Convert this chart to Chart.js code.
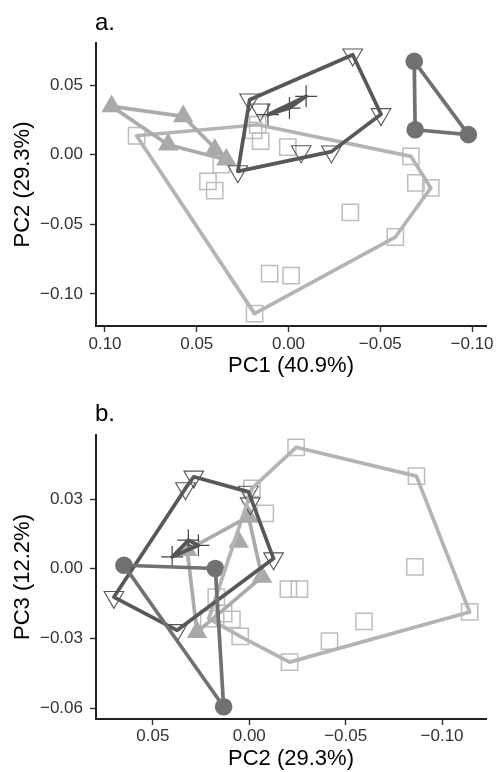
<!DOCTYPE html>
<html><head><meta charset="utf-8">
<script src="https://cdn.jsdelivr.net/npm/chart.js@4.4.1/dist/chart.umd.min.js"></script>
<style>
html,body{margin:0;padding:0;background:#fff;}
#wrap{position:relative;width:499px;height:772px;font-family:"Liberation Sans",Arial,Helvetica,sans-serif;overflow:hidden;}
.panel{position:absolute;left:0;width:499px;height:386px;}
.lab{position:absolute;font-size:24px;line-height:24px;color:#000;}
</style></head><body>
<div id="wrap">
<div class="panel" style="top:0"><canvas id="ca" width="499" height="386"></canvas></div>
<div class="panel" style="top:386px"><canvas id="cb" width="499" height="386"></canvas></div>
<div class="lab" style="left:95px;top:10px">a.</div>
<div class="lab" style="left:95px;top:401px">b.</div>
</div>
<script>
// ---------- categories (groups, one per marker shape) ----------
const groups = ['Group 1', 'Group 2', 'Group 3', 'Group 4', 'Group 5'];

// ---------- panel a: PC1 (x) vs PC2 (y) ----------
const g1A_pc1 = [0.0828, 0.0439, 0.0402, 0.0366, 0.0168, 0.0190, 0.0152, 0.0004, -0.0667, -0.0694, -0.0775, -0.0337, -0.0582, 0.0103, -0.0014, 0.0185];
const g1A_pc2 = [0.0136, -0.0191, -0.0258, -0.0072, 0.0215, 0.0175, 0.0098, 0.0055, -0.0012, -0.0203, -0.0239, -0.0414, -0.0591, -0.0854, -0.0869, -0.1141];
const g2A_pc1 = [0.0964, 0.0574, 0.0656, 0.0402, 0.0339];
const g2A_pc2 = [0.0347, 0.0275, 0.0072, 0.0036, -0.0036];
const g3A_pc1 = [-0.0350, -0.0504, -0.0234, -0.0069, 0.0276, 0.0212, 0.0154];
const g3A_pc2 = [0.0718, 0.0290, 0.0022, 0.0024, -0.0120, 0.0395, 0.0323];
const g4A_pc1 = [-0.0096, -0.0005, 0.0112];
const g4A_pc2 = [0.0419, 0.0335, 0.0287];
const g5A_pc1 = [-0.0685, -0.0690, -0.0980];
const g5A_pc2 = [0.0670, 0.0179, 0.0144];

// ---------- panel b: PC2 (x) vs PC3 (y) ----------
const g1B_pc2 = [0.0133, -0.0203, -0.0260, -0.0083, 0.0210, 0.0171, 0.0090, 0.0047, -0.0014, -0.0209, -0.0243, -0.0416, -0.0595, -0.0859, -0.0867, -0.1143];
const g1B_pc3 = [-0.0193, -0.0088, -0.0088, 0.0238, -0.0215, -0.0122, -0.0218, -0.0291, 0.0346, -0.0402, 0.0523, -0.0312, -0.0227, 0.0008, 0.0399, -0.0186];
const g2B_pc2 = [0.0322, 0.0271, 0.0055, 0.0004, -0.0066];
const g2B_pc3 = [0.0080, -0.0273, 0.0116, 0.0224, -0.0035];
const g3B_pc2 = [0.0702, 0.0288, 0.0004, -0.0005, -0.0126, 0.0374, 0.0331];
const g3B_pc3 = [-0.0122, 0.0396, 0.0331, 0.0281, 0.0044, -0.0265, 0.0346];
const g4B_pc2 = [0.0400, 0.0316, 0.0264];
const g4B_pc3 = [0.0051, 0.0123, 0.0101];
const g5B_pc2 = [0.0650, 0.0176, 0.0133];
const g5B_pc3 = [0.0015, 0.0001, -0.0594];

// ---------- tick labels ----------
const ticksA_x = [0.10, 0.05, 0.00, -0.05, -0.10];
const ticksA_y = [-0.10, -0.05, 0.00, 0.05];
const ticksB_x = [0.05, 0.00, -0.05, -0.10];
const ticksB_y = [-0.06, -0.03, 0.00, 0.03];

const FONT = '"Liberation Sans", Arial, Helvetica, sans-serif';

const styles = [
  {ps: 'rect', r: 11.5, bg: 'rgba(0,0,0,0)', bc: '#bdbdbd', bw: 1.5, line: '#b4b4b4', rot: 0},
  {ps: 'triangle', r: 11.8, bg: '#a9a9a9', bc: '#a9a9a9', bw: 0, line: '#ababab', rot: 0},
  {ps: 'triangle', r: 11.3, bg: 'rgba(0,0,0,0)', bc: '#555555', bw: 1.1, line: '#585858', rot: 180},
  {ps: 'cross', r: 11, bg: '#444444', bc: '#444444', bw: 1.2, line: '#555555', rot: 0},
  {ps: 'circle', r: 8.8, bg: '#717171', bc: '#717171', bw: 0, line: '#717171', rot: 0}
];

function fmt(v) {
  const s = Math.abs(v).toFixed(2);
  return (v < -1e-9 ? '\u2212' : '') + s;
}

function hull(xs, ys) {
  const pts = xs.map((x, i) => ({x: x, y: ys[i]})).sort((a, b) => a.x - b.x || a.y - b.y);
  const cross = (o, a, b) => (a.x - o.x) * (b.y - o.y) - (a.y - o.y) * (b.x - o.x);
  const lower = [];
  for (const p of pts) {
    while (lower.length >= 2 && cross(lower[lower.length - 2], lower[lower.length - 1], p) <= 0) lower.pop();
    lower.push(p);
  }
  const upper = [];
  for (let i = pts.length - 1; i >= 0; i--) {
    const p = pts[i];
    while (upper.length >= 2 && cross(upper[upper.length - 2], upper[upper.length - 1], p) <= 0) upper.pop();
    upper.push(p);
  }
  upper.pop(); lower.pop();
  const h = lower.concat(upper);
  h.push(h[0]);
  return h;
}

function buildDatasets(xsList, ysList) {
  const ds = [];
  xsList.forEach((xs, g) => {
    const ys = ysList[g];
    const st = styles[g];
    ds.push({
      label: groups[g] + ' hull',
      data: hull(xs, ys),
      showLine: true,
      pointRadius: 0,
      pointHoverRadius: 0,
      borderColor: st.line,
      borderWidth: 3.7,
      borderJoinStyle: 'round',
      borderCapStyle: 'round',
      fill: false,
      tension: 0,
      order: 10 - g
    });
    ds.push({
      label: groups[g],
      data: xs.map((x, i) => ({x: x, y: ys[i]})),
      showLine: false,
      pointStyle: st.ps,
      pointRadius: st.r,
      pointHoverRadius: st.r,
      pointRotation: st.rot,
      pointBackgroundColor: st.bg,
      pointBorderColor: st.bc,
      pointBorderWidth: st.bw,
      order: 30 - g
    });
  });
  return ds;
}

function axis(opt) {
  return {
    type: 'linear',
    min: opt.min, max: opt.max, reverse: !!opt.reverse,
    afterBuildTicks: s => { s.ticks = opt.ticks.map(v => ({value: v})); },
    afterFit: s => { if (opt.isX) s.height = opt.size; else s.width = opt.size; },
    grid: {display: true, drawOnChartArea: false, drawTicks: true, tickLength: 6, tickWidth: 1.4, color: '#333333'},
    border: {display: true, color: '#222222', width: 2},
    ticks: {color: '#333333', font: {family: FONT, size: 17}, padding: opt.tpad, autoSkip: false, maxRotation: 0,
            callback: v => fmt(v)},
    title: {display: true, text: opt.title, color: '#000000', font: {family: FONT, size: 22},
            padding: opt.isX ? {top: 0, bottom: opt.titlePad} : {top: opt.titlePad, bottom: 0}}
  };
}

function makeChart(id, datasets, xOpt, yOpt, pad) {
  return new Chart(document.getElementById(id), {
    type: 'scatter',
    data: {datasets: datasets},
    options: {
      responsive: false,
      animation: false,
      devicePixelRatio: 1,
      layout: {padding: pad},
      plugins: {legend: {display: false}, tooltip: {enabled: false}, title: {display: false}},
      events: [],
      scales: {x: axis(xOpt), y: axis(yOpt)}
    }
  });
}

makeChart('ca',
  buildDatasets([g1A_pc1, g2A_pc1, g3A_pc1, g4A_pc1, g5A_pc1], [g1A_pc2, g2A_pc2, g3A_pc2, g4A_pc2, g5A_pc2]),
  {isX: true, min: -0.1076, max: 0.1049, reverse: true, ticks: ticksA_x, title: 'PC1 (40.9%)', size: 60, tpad: 2, titlePad: 7},
  {isX: false, min: -0.123, max: 0.0802, ticks: ticksA_y, title: 'PC2 (29.3%)', size: 96, tpad: 7, titlePad: 10},
  {top: 43, right: 12, left: 0, bottom: 0});

makeChart('cb',
  buildDatasets([g1B_pc2, g2B_pc2, g3B_pc2, g4B_pc2, g5B_pc2], [g1B_pc3, g2B_pc3, g3B_pc3, g4B_pc3, g5B_pc3]),
  {isX: true, min: -0.1228, max: 0.0795, reverse: true, ticks: ticksB_x, title: 'PC2 (29.3%)', size: 53, tpad: 1, titlePad: 0},
  {isX: false, min: -0.0647, max: 0.0576, ticks: ticksB_y, title: 'PC3 (12.2%)', size: 96, tpad: 7, titlePad: 10},
  {top: 49, right: 12, left: 0, bottom: 0});
</script>
</body></html>
